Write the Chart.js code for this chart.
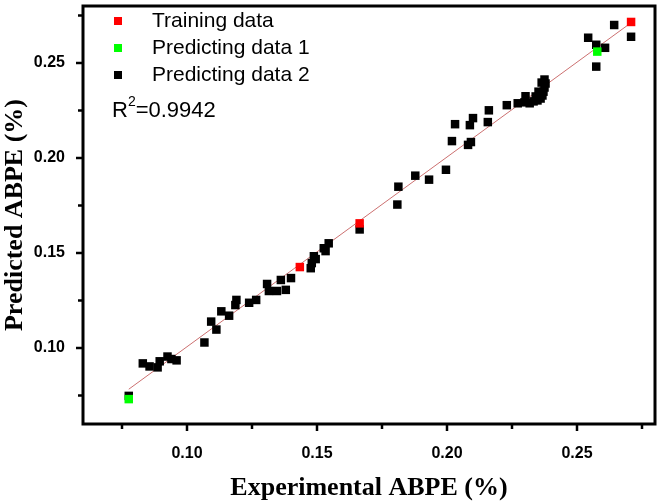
<!DOCTYPE html>
<html>
<head>
<meta charset="utf-8">
<script src="https://cdn.jsdelivr.net/npm/chart.js@4/dist/chart.umd.min.js"></script>
<style>
	html, body { margin: 0; padding: 0; background: #fff; }
	#wrap { width: 661px; height: 504px; }
</style>
</head>
<body>
<div id="wrap"><canvas id="c" width="661" height="504"></canvas></div>
<script>
	'use strict';

	// Training data (red)
	const trainX = [0.1434, 0.1664, 0.2708];
	const trainY = [0.1426, 0.1656, 0.2716];

	// Predicting data 1 (green)
	const pred1X = [0.0776, 0.2578];
	const pred1Y = [0.0731, 0.2560];

	// Predicting data 2 (black)
	const pred2X = [
		0.0776, 0.0830, 0.0856, 0.0887, 0.0895, 0.0925, 0.0960, 0.0940,
		0.1067, 0.1093, 0.1113, 0.1132, 0.1162, 0.1186, 0.1190, 0.1239, 0.1266,
		0.1308, 0.1315, 0.1346, 0.1380, 0.1361, 0.1400,
		0.1476, 0.1480, 0.1488, 0.1495, 0.1526, 0.1533, 0.1545, 0.1664,
		0.1809, 0.1813, 0.1878, 0.1931, 0.1996, 0.2019, 0.2031, 0.2081, 0.2092,
		0.2088, 0.2100, 0.2161, 0.2157, 0.2230, 0.2272, 0.2298, 0.2302,
		0.2318, 0.2333, 0.2348, 0.2360, 0.2367, 0.2371, 0.2375, 0.2379, 0.2375,
		0.2364, 0.2352, 0.2341,
		0.2543, 0.2574, 0.2608, 0.2574, 0.2643, 0.2708
	];
	const pred2Y = [
		0.0748, 0.0919, 0.0903, 0.0898, 0.0930, 0.0955, 0.0935, 0.0942,
		0.1029, 0.1139, 0.1097, 0.1193, 0.1170, 0.1226, 0.1253, 0.1238, 0.1253,
		0.1337, 0.1300, 0.1300, 0.1306, 0.1358, 0.1368,
		0.1420, 0.1447, 0.1483, 0.1468, 0.1525, 0.1510, 0.1551, 0.1624,
		0.1755, 0.1849, 0.1907, 0.1886, 0.1938, 0.2089, 0.2178, 0.2069, 0.2084,
		0.2173, 0.2210, 0.2251, 0.2189, 0.2278, 0.2288, 0.2293, 0.2325,
		0.2288, 0.2298, 0.2303, 0.2313, 0.2329, 0.2349, 0.2371, 0.2392, 0.2413,
		0.2397, 0.2349, 0.2324,
		0.2633, 0.2596, 0.2580, 0.2481, 0.2700, 0.2638
	];

	// Fitted line endpoints
	const fitX = [0.0776, 0.2708];
	const fitY = [0.0783, 0.2712];

	// Axis ticks (major ones get labels)
	const tickVals = [0.075, 0.10, 0.125, 0.15, 0.175, 0.20, 0.225, 0.25, 0.275];
	const axisMin = 0.06;
	const axisMax = 0.28;

	const r2Text = '0.9942';

	function toPoints(xs, ys) {
		return xs.map(function(x, i){ return { x: x, y: ys[i] }; });
	}

	function isMajor(v) {
		return Math.round(v * 1000) % 50 === 0;
	}

	function setTicks(scale) {
		scale.ticks = tickVals.map(function(v){ return { value: v }; });
	}

	// Frame, outward ticks, in-plot legend and R2 label
	const framePlugin = {
		id: 'frame',
		afterDraw: function(chart) {
			const ctx = chart.ctx;
			const a = chart.chartArea;
			const xs = chart.scales.x;
			const ys = chart.scales.y;
			ctx.save();
			ctx.strokeStyle = '#000';
			ctx.lineWidth = 2.5;
			tickVals.forEach(function(v){
				const len = isMajor(v) ? 7 : 5;
				const px = xs.getPixelForValue(v);
				ctx.beginPath();
				ctx.moveTo(px, a.bottom);
				ctx.lineTo(px, a.bottom + len);
				ctx.stroke();
				const py = ys.getPixelForValue(v);
				ctx.beginPath();
				ctx.moveTo(a.left, py);
				ctx.lineTo(a.left - len, py);
				ctx.stroke();
			});
			ctx.lineWidth = 3;
			ctx.strokeRect(a.left, a.top, a.right - a.left, a.bottom - a.top);

			// legend
			const items = chart.data.datasets.filter(function(d){ return d.inLegend; });
			ctx.font = '21px "Liberation Sans", Arial, sans-serif';
			ctx.textBaseline = 'middle';
			ctx.textAlign = 'left';
			items.forEach(function(d, i){
				const y = 21 + i * 27;
				ctx.fillStyle = d.backgroundColor;
				ctx.fillRect(114, y - 4, 8, 8);
				ctx.fillStyle = '#000';
				ctx.fillText(d.label, 152, y);
			});

			// R^2
			ctx.font = '22px "Liberation Sans", Arial, sans-serif';
			ctx.fillText('R', 112, 111);
			const rw = ctx.measureText('R').width;
			ctx.font = '14px "Liberation Sans", Arial, sans-serif';
			ctx.fillText('2', 112 + rw, 102);
			const sw = ctx.measureText('2').width;
			ctx.font = '22px "Liberation Sans", Arial, sans-serif';
			ctx.fillText('=' + r2Text, 112 + rw + sw, 111);
			ctx.restore();
		}
	};

	const tickFont = { family: '"Liberation Sans", Arial, sans-serif', size: 16, weight: 'bold' };
	const titleFont = { family: '"Liberation Serif", "Times New Roman", serif', size: 26, weight: 'bold' };

	new Chart(document.getElementById('c').getContext('2d'), {
		type: 'scatter',
		data: {
			datasets: [
				{
					label: 'Fit',
					data: toPoints(fitX, fitY),
					showLine: true,
					borderColor: '#cc7070',
					borderWidth: 1,
					pointRadius: 0,
					order: 4
				},
				{
					label: 'Training data',
					inLegend: true,
					data: toPoints(trainX, trainY),
					pointStyle: 'rect',
					pointRadius: 6,
					backgroundColor: '#ff0000',
					borderWidth: 0,
					order: 2
				},
				{
					label: 'Predicting data 1',
					inLegend: true,
					data: toPoints(pred1X, pred1Y),
					pointStyle: 'rect',
					pointRadius: 6,
					backgroundColor: '#00ff00',
					borderWidth: 0,
					order: 1
				},
				{
					label: 'Predicting data 2',
					inLegend: true,
					data: toPoints(pred2X, pred2Y),
					pointStyle: 'rect',
					pointRadius: 6,
					backgroundColor: '#000000',
					borderWidth: 0,
					order: 3
				}
			]
		},
		options: {
			responsive: false,
			animation: false,
			layout: { padding: { top: 3, right: 3, left: 0, bottom: 0 } },
			plugins: {
				legend: { display: false },
				tooltip: { enabled: false }
			},
			scales: {
				x: {
					type: 'linear',
					min: axisMin,
					max: axisMax,
					afterBuildTicks: setTicks,
					afterFit: function(s){
						s.height = 80;
						s.paddingLeft = 0;
						s.paddingRight = 0;
					},
					grid: { display: false, drawTicks: false },
					border: { display: false },
					ticks: {
						color: '#000',
						font: tickFont,
						padding: 20,
						maxRotation: 0,
						autoSkip: false,
						callback: function(v){ return isMajor(v) ? v.toFixed(2) : ''; }
					},
					title: {
						display: true,
						text: 'Experimental ABPE (%)',
						color: '#000',
						font: titleFont,
						padding: 0
					}
				},
				y: {
					type: 'linear',
					min: axisMin,
					max: axisMax,
					afterBuildTicks: setTicks,
					afterFit: function(s){
						s.width = 83;
						s.paddingTop = 0;
						s.paddingBottom = 0;
					},
					grid: { display: false, drawTicks: false },
					border: { display: false },
					ticks: {
						color: '#000',
						font: tickFont,
						padding: 18,
						autoSkip: false,
						callback: function(v){ return isMajor(v) ? v.toFixed(2) : ''; }
					},
					title: {
						display: true,
						text: 'Predicted ABPE (%)',
						color: '#000',
						font: titleFont,
						padding: 0
					}
				}
			}
		},
		plugins: [framePlugin]
	});
</script>
</body>
</html>
